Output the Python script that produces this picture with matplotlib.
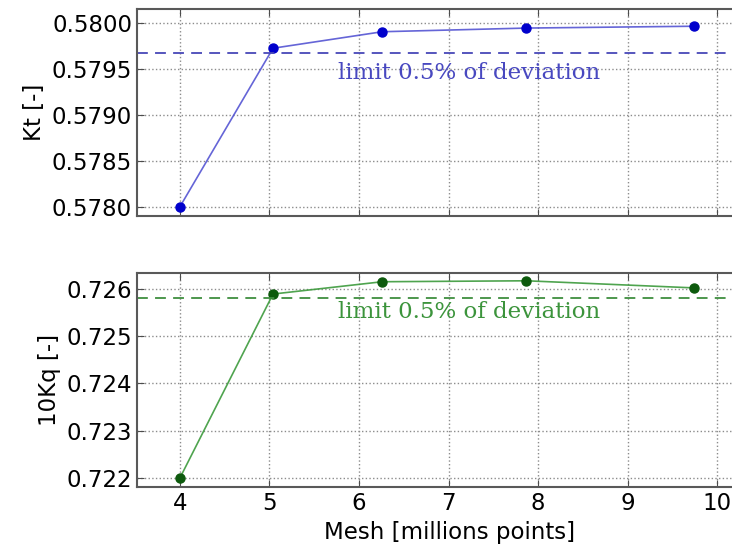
import matplotlib
matplotlib.use("Agg")
import matplotlib.pyplot as plt
from matplotlib.ticker import FormatStrFormatter

# mesh size in millions of points
mesh = [4.0, 5.04, 6.26, 7.87, 9.74]
kt = [0.5780, 0.57973, 0.57991, 0.57995, 0.57997]
kq10 = [0.7220, 0.72589, 0.72615, 0.72617, 0.72602]
kt_limit = 0.57968
kq_limit = 0.72581
limit_text = "limit 0.5% of deviation"

plt.rcParams["font.family"] = "DejaVu Sans"

fig = plt.figure(figsize=(7.32, 5.51), dpi=100)
ax1 = fig.add_axes([0.187, 0.608, 0.854, 0.376])
ax2 = fig.add_axes([0.187, 0.116, 0.854, 0.389])

def style(ax):
    ax.grid(True, color="0.55", linestyle=":", linewidth=1)
    ax.tick_params(direction="in", top=True, right=True, labelsize=16.5,
                   length=5, color="0.3")
    for s in ax.spines.values():
        s.set_color("0.35")
        s.set_linewidth(1.5)
    ax.set_xlim(3.52, 10.5)
    ax.set_xticks([4, 5, 6, 7, 8, 9, 10])

# Kt
ax1.plot(mesh, kt, "-", color="#4a4ad0", lw=1.2, alpha=0.85)
ax1.plot(mesh, kt, "o", color="#0000cc", ms=6.5, mec="#0000cc")
ax1.axhline(kt_limit, color="#4848b8", ls="--", lw=1.3, dashes=(6, 4))
ax1.text(5.77, 0.57946, limit_text, family="DejaVu Serif", fontsize=16.5,
         color="#4848c0", va="center")
ax1.set_ylim(0.57790, 0.58016)
ax1.set_yticks([0.5780, 0.5785, 0.5790, 0.5795, 0.5800])
ax1.yaxis.set_major_formatter(FormatStrFormatter("%.4f"))
ax1.set_ylabel("Kt [-]", fontsize=16.5)
style(ax1)
ax1.set_xticklabels([])

# 10Kq
ax2.plot(mesh, kq10, "-", color="#3c9a3c", lw=1.2, alpha=0.9)
ax2.plot(mesh, kq10, "o", color="#0d5a0d", ms=6.5, mec="#0d5a0d")
ax2.axhline(kq_limit, color="#3f8f3f", ls="--", lw=1.3, dashes=(6, 4))
ax2.text(5.77, 0.72551, limit_text, family="DejaVu Serif", fontsize=16.5,
         color="#3c943c", va="center")
ax2.set_ylim(0.72181, 0.72634)
ax2.set_yticks([0.722, 0.723, 0.724, 0.725, 0.726])
ax2.yaxis.set_major_formatter(FormatStrFormatter("%.3f"))
ax2.set_ylabel("10Kq [-]", fontsize=16.5)
ax2.set_xlabel("Mesh [millions points]", fontsize=16.5)
style(ax2)

fig.savefig("out.png", dpi=100, facecolor="white")
